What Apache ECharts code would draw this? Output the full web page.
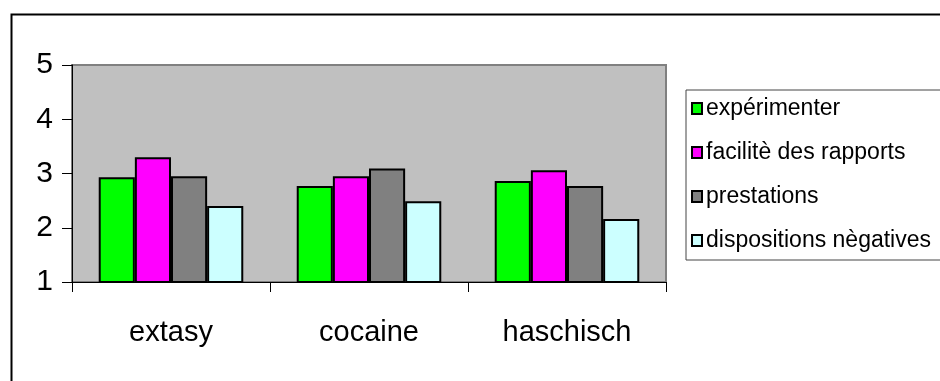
<!DOCTYPE html>
<html>
<head>
<meta charset="utf-8">
<script src="https://cdn.jsdelivr.net/npm/echarts@6/dist/echarts.min.js"></script>
<style>
  html, body { margin: 0; padding: 0; background: #fff; }
  #chart { width: 940px; height: 381px; }
</style>
</head>
<body>
<div id="chart"></div>
<script>
// Drug categories on the x axis
const categories = ['extasy', 'cocaine', 'haschisch'];

// Mean scores per dimension (one value per category)
const experimenter = [2.93, 2.77, 2.86];
const faciliteRapports = [3.30, 2.95, 3.06];
const prestations = [2.95, 3.09, 2.77];
const dispositionsNegatives = [2.40, 2.49, 2.16];

// Series names as shown in the legend
const seriesNames = ['expérimenter', 'facilitè des rapports', 'prestations', 'dispositions nègatives'];
const seriesValues = [experimenter, faciliteRapports, prestations, dispositionsNegatives];
const seriesColors = ['#00FF00', '#FF00FF', '#808080', '#CCFFFF'];

// Value axis range
const yMin = 1, yMax = 5, yStep = 1;

const FONT = '"Liberation Sans", Arial, sans-serif';

const chart = echarts.init(document.getElementById('chart'), null, { renderer: 'canvas' });

chart.setOption({
  animation: false,
  backgroundColor: '#ffffff',
  graphic: [{
    type: 'rect',
    left: 9, top: 12,
    shape: { width: 1000, height: 500 },
    style: { fill: 'none', stroke: '#000', lineWidth: 2 },
    silent: true,
    z: -10
  }],
  grid: {
    left: 72, top: 65, right: 274, bottom: 99,
    show: true,
    backgroundColor: '#C0C0C0',
    borderColor: '#808080',
    borderWidth: 2
  },
  legend: {
    orient: 'vertical',
    left: 686, top: 90,
    padding: [7, 40, 8, 5],
    backgroundColor: '#fff',
    borderColor: '#444',
    borderWidth: 1,
    borderRadius: 0,
    itemWidth: 10,
    itemHeight: 11,
    itemGap: 21,
    icon: 'rect',
    textStyle: { fontFamily: FONT, fontSize: 23, color: '#000', padding: [0, 0, 0, -1] },
    data: seriesNames
  },
  xAxis: {
    type: 'category',
    data: categories,
    boundaryGap: true,
    axisLine: { show: true, lineStyle: { color: '#000', width: 1 } },
    axisTick: { show: true, length: 10, inside: false, lineStyle: { color: '#000' } },
    axisLabel: { fontFamily: FONT, fontSize: 29, color: '#000', margin: 36 },
    splitLine: { show: false }
  },
  yAxis: {
    type: 'value',
    min: yMin, max: yMax, interval: yStep,
    axisLine: { show: true, lineStyle: { color: '#000', width: 1 } },
    axisTick: { show: true, length: 10, inside: false, lineStyle: { color: '#000' } },
    axisLabel: { fontFamily: FONT, fontSize: 30, color: '#000', margin: 19 },
    splitLine: { show: false }
  },
  series: seriesNames.map((name, i) => ({
    name: name,
    type: 'bar',
    data: seriesValues[i],
    barGap: '0%',
    barCategoryGap: '27%',
    itemStyle: { color: seriesColors[i], borderColor: '#000', borderWidth: 2 }
  }))
});
</script>
</body>
</html>
